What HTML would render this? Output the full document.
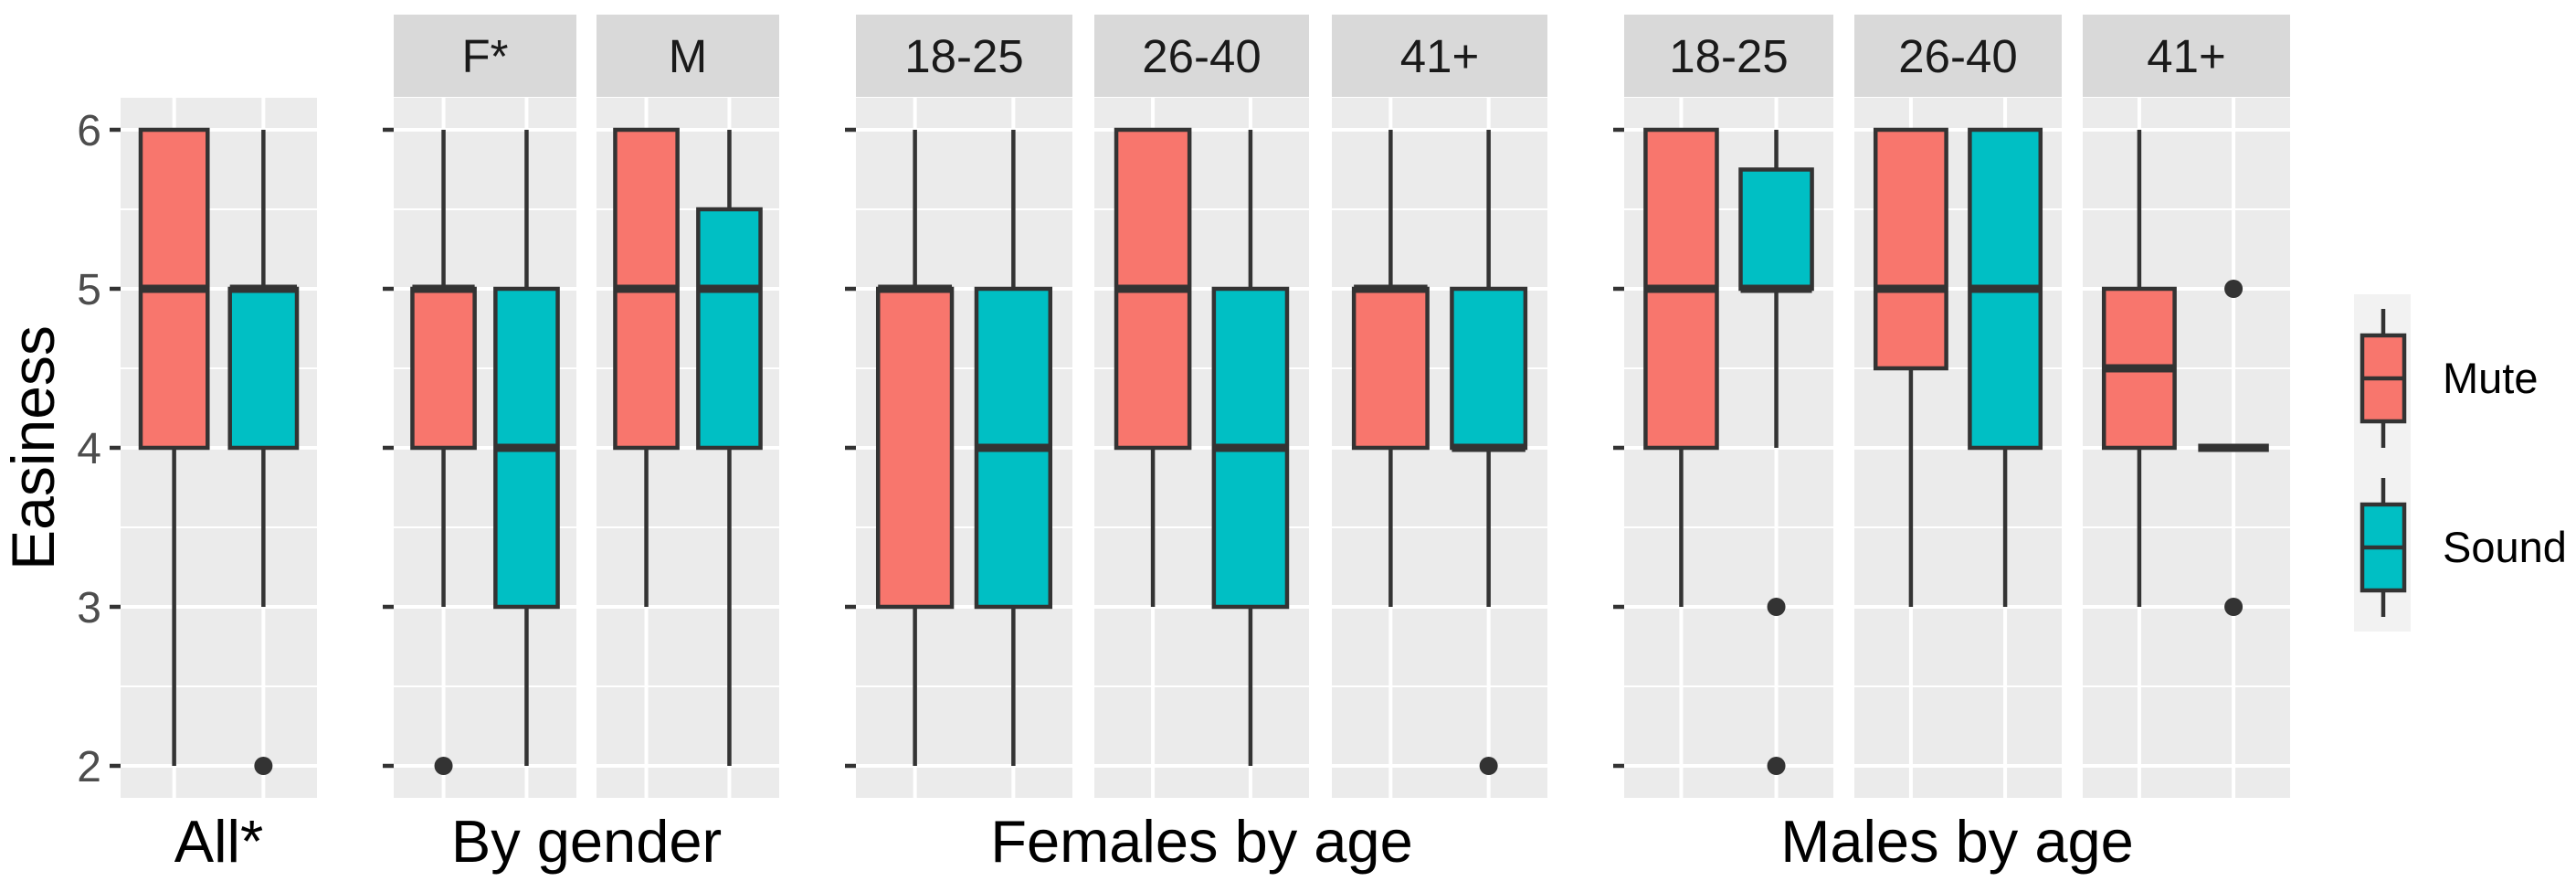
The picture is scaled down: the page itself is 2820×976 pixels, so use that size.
<!DOCTYPE html>
<html><head><meta charset="utf-8"><style>
html,body{margin:0;padding:0;background:#fff;}
svg{display:block;font-family:"Liberation Sans",Arial,sans-serif;}
</style></head><body>
<svg id="chart" width="2820" height="976" viewBox="0 0 2820 976" xmlns="http://www.w3.org/2000/svg"></svg>
<script>
// ---- data ----
const panelLabels = ["", "F*", "M", "18-25", "26-40", "41+", "18-25", "26-40", "41+"];
const groupTitles = ["All*", "By gender", "Females by age", "Males by age"];
const panelGroup = [0, 1, 1, 2, 2, 2, 3, 3, 3];
const seriesNames = ["Mute", "Sound"];
// [lowerWhisker, q1, median, q3, upperWhisker]
const muteStats = [
  [2,4,5,6,6],[3,4,5,5,6],[3,4,5,6,6],
  [2,3,5,5,6],[3,4,5,6,6],[3,4,5,5,6],
  [3,4,5,6,6],[3,4.5,5,6,6],[3,4,4.5,5,6]
];
const soundStats = [
  [3,4,5,5,6],[2,3,4,5,6],[2,4,5,5.5,6],
  [2,3,4,5,6],[2,3,4,5,6],[3,4,4,5,6],
  [4,5,5,5.75,6],[3,4,5,6,6],[4,4,4,4,4]
];
const muteOutliers = [[],[2],[],[],[],[],[],[],[]];
const soundOutliers = [[2],[],[],[],[],[2],[3,2],[],[5,3]];
const yTicks = [2,3,4,5,6];

// ---- layout ----
const panelX = [[132,347],[431,631],[653,853],[937,1174],[1198,1433],[1458,1694],[1778,2007],[2030,2257],[2280,2507]];
const plotTop = 107, plotBot = 873;
const yScale = v => 838 - (v - 2) * 174;
const NS = "http://www.w3.org/2000/svg";
const svg = document.getElementById('chart');
function el(tag, attrs, parent) {
  const e = document.createElementNS(NS, tag);
  for (const k in attrs) e.setAttribute(k, attrs[k]);
  (parent || svg).appendChild(e);
  return e;
}
const fills = ["#F8766D", "#00BFC4"];
const statsBy = [muteStats, soundStats];
const outBy = [muteOutliers, soundOutliers];

panelX.forEach((px, i) => {
  const [x0, x1] = px, W = x1 - x0;
  const xs = v => x0 + (v - 0.4) / 2.2 * W;
  const g = el('g', {});
  
  
  const bg = el('rect', {x: x0, y: plotTop, width: W, height: plotBot - plotTop, fill: '#ebebeb'}, g);
  
  
  for (let v = 2.5; v < 6.2; v += 1) {
    el('line', {x1: x0, x2: x1, y1: yScale(v), y2: yScale(v), stroke: '#fff', 'stroke-width': 2}, g);
  }
  yTicks.forEach(v => el('line', {x1: x0, x2: x1, y1: yScale(v), y2: yScale(v), stroke: '#fff', 'stroke-width': 4}, g));
  [1, 2].forEach(v => el('line', {x1: xs(v), x2: xs(v), y1: plotTop, y2: plotBot, stroke: '#fff', 'stroke-width': 4}, g));
  if (panelLabels[i]) {
    const st = el('rect', {x: x0, y: 16, width: W, height: 90, fill: '#d9d9d9'}, g);
    
    
    const tt = el('text', {x: (x0 + x1) / 2, y: 79, 'text-anchor': 'middle', 'font-size': 51, fill: '#1a1a1a'}, g);
    tt.textContent = panelLabels[i];
    
    
  }
  const bw = 0.75 / 2.2 * W;
  [0, 1].forEach(s => {
    const st = statsBy[s][i], cx = xs(s + 1);
    const bx = el('g', {}, g);
    
    
    el('line', {x1: cx, x2: cx, y1: yScale(st[0]), y2: yScale(st[1]), stroke: '#333', 'stroke-width': 4.5}, bx);
    el('line', {x1: cx, x2: cx, y1: yScale(st[3]), y2: yScale(st[4]), stroke: '#333', 'stroke-width': 4.5}, bx);
    el('rect', {x: cx - bw / 2, y: yScale(st[3]), width: bw, height: Math.max(0, yScale(st[1]) - yScale(st[3])), fill: fills[s], stroke: '#333', 'stroke-width': 4.5}, bx);
    el('line', {x1: cx - bw / 2, x2: cx + bw / 2, y1: yScale(st[2]), y2: yScale(st[2]), stroke: '#333', 'stroke-width': 9}, bx);
    outBy[s][i].forEach(o => {
      const c = el('circle', {cx: cx, cy: yScale(o), r: 10, fill: '#333'}, bx);
      
      
    });
  });
});

// y axes (ticks) for each group
const groupFirst = [0, 1, 3, 6];
groupFirst.forEach((pi, gi) => {
  const x0 = panelX[pi][0];
  yTicks.forEach(v => {
    const t = el('line', {x1: x0 - 12, x2: x0, y1: yScale(v), y2: yScale(v), stroke: '#333', 'stroke-width': 4.5});
    
    
    if (gi === 0) {
      const l = el('text', {x: 111, y: yScale(v) + 17, 'text-anchor': 'end', 'font-size': 48, fill: '#4d4d4d'});
      l.textContent = v;
      
      
    }
  });
});
// group titles
groupTitles.forEach((t, gi) => {
  const idx = panelGroup.map((g, k) => g === gi ? k : -1).filter(k => k >= 0);
  const cx = (panelX[idx[0]][0] + panelX[idx[idx.length - 1]][1]) / 2;
  const tx = el('text', {x: cx, y: 943, 'text-anchor': 'middle', 'font-size': 65, fill: '#000'});
  tx.textContent = t;
  
  
});
const yt = el('text', {x: 0, y: 0, 'text-anchor': 'middle', 'font-size': 66, fill: '#000', transform: 'translate(59,490) rotate(-90)'});
yt.textContent = 'Easiness';



// legend
const lg = el('g', {});


el('rect', {x: 2577, y: 322, width: 62, height: 369, fill: '#f2f2f2'}, lg);
const keyY = [414, 599];
[0, 1].forEach(s => {
  const ke = el('g', {}, lg);
  
  
  const cy = keyY[s], cx = 2609;
  el('line', {x1: cx, x2: cx, y1: cy - 76, y2: cy + 76, stroke: '#333', 'stroke-width': 4.5}, ke);
  el('rect', {x: 2586, y: cy - 47, width: 46, height: 94, fill: fills[s], stroke: '#333', 'stroke-width': 4.5}, ke);
  el('line', {x1: 2586, x2: 2632, y1: cy, y2: cy, stroke: '#333', 'stroke-width': 4.5}, ke);
  const t = el('text', {x: 2674, y: cy + 16, 'font-size': 47, fill: '#000'}, ke);
  t.textContent = seriesNames[s];
});
</script>
</body></html>
